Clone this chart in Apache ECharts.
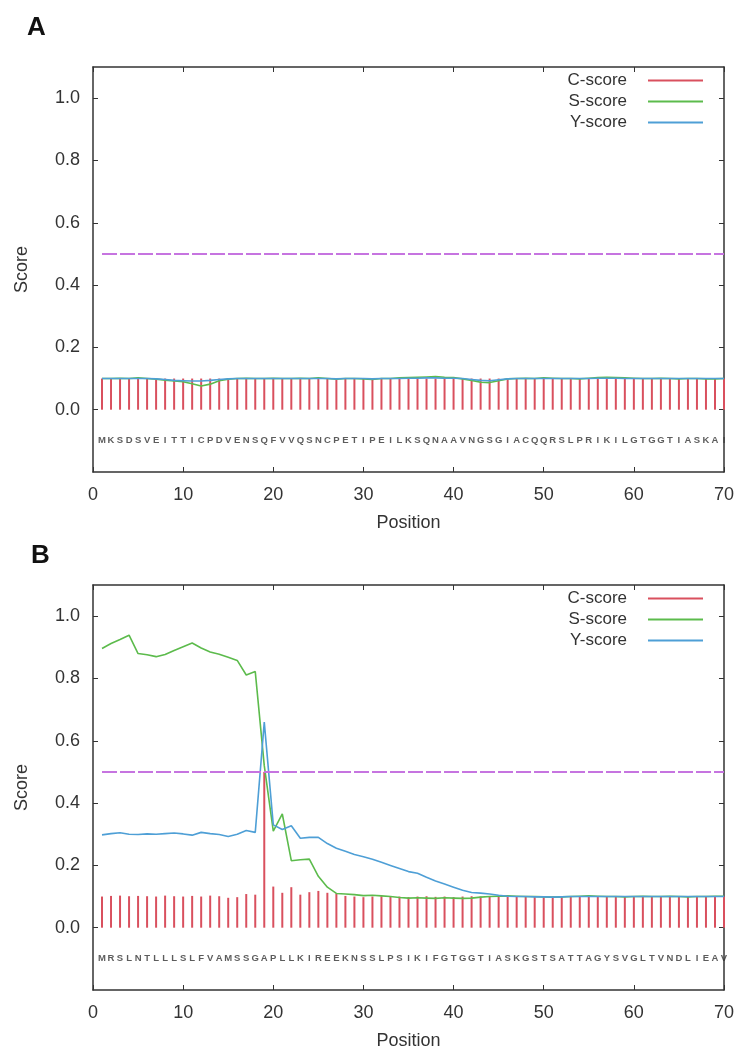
<!DOCTYPE html>
<html lang="en">
<head>
<meta charset="UTF-8">
<title>SignalP</title>
<script src="https://cdn.jsdelivr.net/npm/echarts@6/dist/echarts.min.js"></script>
<style>
  html, body { margin: 0; padding: 0; background: #fff; }
  #main { width: 737px; height: 1053px; }
</style>
</head>
<body>
<div id="main"></div>
<script type="text/javascript">
// positions 1..70
var seqA = 'MKSDSVEITTICPDVENSQFVVQSNCPETIPEILKSQNAAVNGSGIACQQRSLPRIKILGTGGTIASKAI';
var seqB = 'MRSLNTLLLSLFVAMSSGAPLLKIREEKNSSLPSIKIFGTGGTIASKGSTSATTAGYSVGLTVNDLIEAV';

var cScoreA = [0.100, 0.100, 0.101, 0.100, 0.100, 0.100, 0.100, 0.100, 0.100, 0.100,
               0.100, 0.100, 0.100, 0.100, 0.100, 0.100, 0.100, 0.100, 0.100, 0.100,
               0.100, 0.100, 0.100, 0.100, 0.100, 0.100, 0.100, 0.100, 0.100, 0.100,
               0.100, 0.100, 0.100, 0.100, 0.100, 0.100, 0.100, 0.100, 0.100, 0.100,
               0.100, 0.100, 0.100, 0.100, 0.100, 0.100, 0.100, 0.100, 0.100, 0.100,
               0.100, 0.100, 0.100, 0.100, 0.100, 0.100, 0.100, 0.100, 0.100, 0.100,
               0.100, 0.100, 0.100, 0.100, 0.100, 0.100, 0.100, 0.100, 0.100, 0.100];
var sScoreA = [0.100, 0.100, 0.101, 0.100, 0.102, 0.100, 0.098, 0.095, 0.092, 0.090,
               0.083, 0.076, 0.082, 0.093, 0.098, 0.100, 0.101, 0.100, 0.100, 0.101,
               0.100, 0.100, 0.101, 0.100, 0.102, 0.100, 0.098, 0.100, 0.100, 0.099,
               0.097, 0.100, 0.100, 0.102, 0.103, 0.104, 0.105, 0.106, 0.104, 0.103,
               0.099, 0.094, 0.088, 0.087, 0.093, 0.099, 0.100, 0.101, 0.100, 0.102,
               0.101, 0.100, 0.100, 0.099, 0.101, 0.103, 0.104, 0.103, 0.102, 0.101,
               0.100, 0.100, 0.101, 0.100, 0.099, 0.100, 0.100, 0.099, 0.099, 0.100];
var yScoreA = [0.100, 0.100, 0.100, 0.100, 0.100, 0.100, 0.099, 0.097, 0.094, 0.093,
               0.092, 0.092, 0.094, 0.097, 0.099, 0.100, 0.100, 0.100, 0.100, 0.100,
               0.100, 0.100, 0.100, 0.100, 0.100, 0.100, 0.099, 0.100, 0.100, 0.100,
               0.099, 0.100, 0.100, 0.100, 0.101, 0.101, 0.102, 0.102, 0.101, 0.101,
               0.100, 0.097, 0.094, 0.093, 0.096, 0.099, 0.100, 0.100, 0.100, 0.100,
               0.100, 0.100, 0.100, 0.100, 0.100, 0.101, 0.101, 0.101, 0.100, 0.100,
               0.100, 0.100, 0.100, 0.100, 0.100, 0.100, 0.100, 0.100, 0.100, 0.100];

var cScoreB = [0.100, 0.102, 0.103, 0.101, 0.102, 0.101, 0.100, 0.103, 0.101, 0.100,
               0.102, 0.100, 0.103, 0.101, 0.096, 0.098, 0.108, 0.106, 0.500, 0.132,
               0.112, 0.130, 0.106, 0.114, 0.118, 0.112, 0.110, 0.102, 0.100, 0.098,
               0.100, 0.101, 0.099, 0.100, 0.098, 0.100, 0.101, 0.099, 0.100, 0.098,
               0.100, 0.101, 0.100, 0.099, 0.100, 0.101, 0.100, 0.100, 0.099, 0.100,
               0.100, 0.100, 0.099, 0.100, 0.101, 0.100, 0.100, 0.100, 0.101, 0.100,
               0.100, 0.100, 0.101, 0.100, 0.100, 0.100, 0.100, 0.101, 0.100, 0.100];
var sScoreB = [0.896, 0.912, 0.925, 0.939, 0.880, 0.876, 0.870, 0.877, 0.890, 0.902,
               0.914, 0.898, 0.885, 0.878, 0.868, 0.858, 0.811, 0.822, 0.520, 0.310,
               0.365, 0.215, 0.218, 0.220, 0.165, 0.130, 0.110, 0.108, 0.106, 0.103,
               0.104, 0.102, 0.100, 0.097, 0.095, 0.096, 0.095, 0.094, 0.096, 0.095,
               0.094, 0.095, 0.098, 0.100, 0.101, 0.102, 0.101, 0.100, 0.100, 0.099,
               0.098, 0.099, 0.100, 0.101, 0.102, 0.101, 0.100, 0.100, 0.099, 0.100,
               0.101, 0.100, 0.100, 0.101, 0.100, 0.099, 0.100, 0.100, 0.101, 0.101];
var yScoreB = [0.298, 0.302, 0.305, 0.300, 0.299, 0.301, 0.300, 0.302, 0.304, 0.301,
               0.297, 0.306, 0.302, 0.299, 0.293, 0.300, 0.312, 0.306, 0.660, 0.330,
               0.315, 0.327, 0.287, 0.290, 0.290, 0.270, 0.255, 0.245, 0.235, 0.228,
               0.220, 0.210, 0.200, 0.190, 0.180, 0.175, 0.162, 0.150, 0.140, 0.130,
               0.120, 0.113, 0.111, 0.108, 0.104, 0.101, 0.100, 0.100, 0.099, 0.099,
               0.098, 0.099, 0.100, 0.100, 0.100, 0.100, 0.100, 0.100, 0.100, 0.100,
               0.100, 0.100, 0.100, 0.100, 0.100, 0.100, 0.100, 0.100, 0.100, 0.100];

var cutoff = 0.5;
var seqLevel = -0.1;
var yTicks = [0, 0.2, 0.4, 0.6, 0.8, 1.0];
var legendNames = ['C-score', 'S-score', 'Y-score'];

var FONT = 'Liberation Sans';
var RED = '#d9505e', GREEN = '#5cbb4c', BLUE = '#4e9fd6', PURPLE = '#c674e0';

function pairs(arr) {
    return arr.map(function (v, i) { return [i + 1, v]; });
}
function letters(seq) {
    return seq.split('').map(function (ch, i) { return [i + 1, seqLevel, ch]; });
}

var grids = [
    { left: 93, right: 11, top: 67, height: 405 },
    { left: 93, right: 11, top: 585, height: 405 }
];

var xAxis = [], yAxis = [], series = [], legend = [];
var panels = [
    { c: cScoreA, s: sScoreA, y: yScoreA, seq: seqA },
    { c: cScoreB, s: sScoreB, y: yScoreB, seq: seqB }
];

var frameLine = { onZero: false, lineStyle: { color: '#333', width: 1.5 } };

panels.forEach(function (p, g) {
    // bottom + mirrored top x axis
    xAxis.push({
        gridIndex: g, type: 'value', min: 0, max: 70, interval: 10,
        axisLine: frameLine,
        axisTick: { inside: true, length: 5, lineStyle: { color: '#333' } },
        axisLabel: { fontSize: 18, color: '#333', margin: 14, fontFamily: FONT },
        splitLine: { show: false },
        name: 'Position', nameLocation: 'middle', nameGap: 42,
        nameTextStyle: { fontSize: 18, color: '#333', fontFamily: FONT }
    });
    xAxis.push({
        gridIndex: g, type: 'value', position: 'top', min: 0, max: 70, interval: 10,
        axisLine: frameLine,
        axisTick: { inside: true, length: 5, lineStyle: { color: '#333' } },
        axisLabel: { show: false }, splitLine: { show: false }
    });
    // left + mirrored right y axis
    yAxis.push({
        gridIndex: g, type: 'value', min: -0.2, max: 1.1,
        axisLine: { show: true, onZero: false, lineStyle: { color: '#333', width: 1.5 } },
        axisTick: { show: true, inside: true, length: 5, customValues: yTicks, lineStyle: { color: '#333' } },
        axisLabel: {
            fontSize: 18, color: '#333', margin: 13, fontFamily: FONT, customValues: yTicks,
            formatter: function (v) { return v.toFixed(1); }
        },
        splitLine: { show: false },
        name: 'Score', nameLocation: 'middle', nameGap: 62,
        nameTextStyle: { fontSize: 18, color: '#333', fontFamily: FONT }
    });
    yAxis.push({
        gridIndex: g, type: 'value', position: 'right', min: -0.2, max: 1.1,
        axisLine: { show: true, onZero: false, lineStyle: { color: '#333', width: 1.5 } },
        axisTick: { show: true, inside: true, length: 5, customValues: yTicks, lineStyle: { color: '#333' } },
        axisLabel: { show: false }, splitLine: { show: false }
    });

    var xi = g * 2, yi = g * 2;
    series.push({
        name: 'C-score', type: 'bar', xAxisIndex: xi, yAxisIndex: yi,
        barWidth: 2, itemStyle: { color: RED }, silent: true,
        data: pairs(p.c)
    });
    series.push({
        name: 'S-score', type: 'line', xAxisIndex: xi, yAxisIndex: yi,
        symbol: 'none', lineStyle: { color: GREEN, width: 1.6 }, itemStyle: { color: GREEN },
        data: pairs(p.s)
    });
    series.push({
        name: 'Y-score', type: 'line', xAxisIndex: xi, yAxisIndex: yi,
        symbol: 'none', lineStyle: { color: BLUE, width: 1.6 }, itemStyle: { color: BLUE },
        data: pairs(p.y)
    });
    series.push({
        name: 'cutoff', type: 'line', xAxisIndex: xi, yAxisIndex: yi,
        symbol: 'none', lineStyle: { color: PURPLE, width: 2, type: [15, 3] },
        data: [[1, cutoff], [70, cutoff]]
    });
    series.push({
        name: 'sequence', type: 'scatter', xAxisIndex: xi, yAxisIndex: yi,
        symbolSize: 1, itemStyle: { color: 'rgba(0,0,0,0)' },
        label: {
            show: true, position: 'inside', fontSize: 9.5, fontWeight: 'bold',
            color: '#333', fontFamily: FONT,
            formatter: function (d) { return d.value[2]; }
        },
        data: letters(p.seq)
    });

    legend.push({
        orient: 'vertical', align: 'right', right: 34, top: grids[g].top + 5, padding: 0,
        itemWidth: 55, itemHeight: 2, itemGap: 4, icon: 'rect', selectedMode: false,
        textStyle: { fontSize: 17, lineHeight: 17, color: '#333', fontFamily: FONT, padding: [0, 16, 0, 0] },
        data: legendNames
    });
});

var myChart = echarts.init(document.getElementById('main'));
myChart.setOption({
    animation: false,
    title: [
        { text: 'A', left: 22, top: 10, textStyle: { fontSize: 26, fontWeight: 'bold', color: '#111', fontFamily: FONT } },
        { text: 'B', left: 26, top: 538, textStyle: { fontSize: 26, fontWeight: 'bold', color: '#111', fontFamily: FONT } }
    ],
    legend: legend,
    grid: grids,
    xAxis: xAxis,
    yAxis: yAxis,
    series: series
});
</script>
</body>
</html>
